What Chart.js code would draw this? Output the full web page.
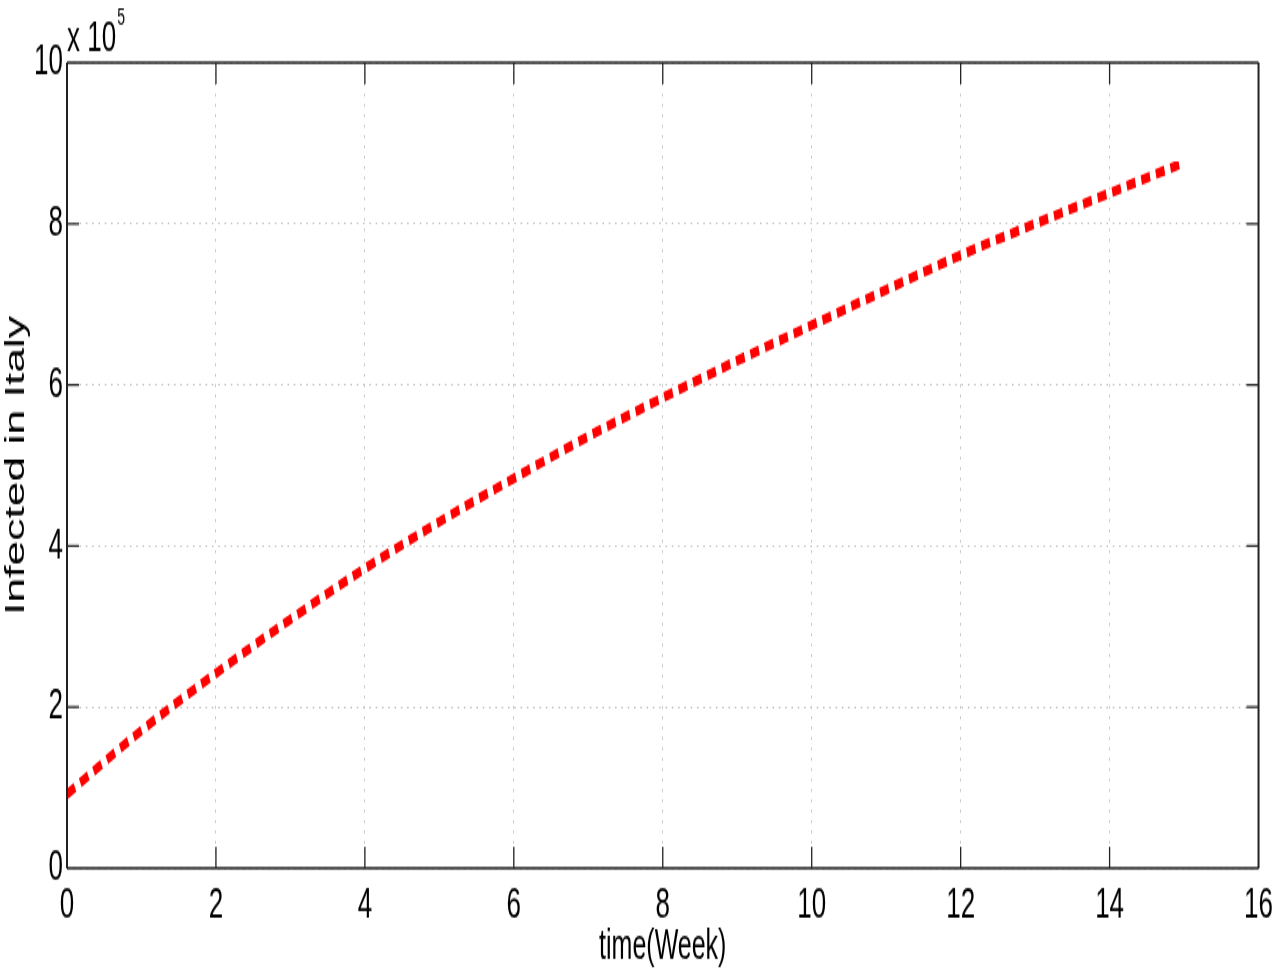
<!DOCTYPE html>
<html>
<head>
<meta charset="utf-8">
<script src="https://cdn.jsdelivr.net/npm/chart.js@4.4.1/dist/chart.umd.min.js"></script>
<style>
  html, body { margin: 0; padding: 0; background: #fff; }
</style>
</head>
<body>
<!-- the reference is a vertically stretched figure, so the canvas is drawn short and stretched -->
<canvas id="chart" width="1280" height="590" style="display:block;width:1280px;height:972px"></canvas>
<script>
// values
const weeks = [0, 1, 2, 3, 4, 5, 6, 7, 8, 9, 10, 11, 12, 13, 14, 15];
const infected = [92000, 171000, 242000, 309000, 372000, 430000, 484000, 536000,
                  584000, 630000, 674000, 718000, 761000, 800000, 838000, 876000];
const xTicks = [0, 2, 4, 6, 8, 10, 12, 14, 16];
const yTicks = [0, 200000, 400000, 600000, 800000, 1000000];

const FONT = "'Liberation Sans', Arial, sans-serif";

// box around the plot with inward ticks, plus the "x 10^5" multiplier
const matlabFrame = {
  id: 'matlabFrame',
  afterDraw(chart) {
    const ctx = chart.ctx;
    const a = chart.chartArea;
    const xs = chart.scales.x, ys = chart.scales.y;
    ctx.save();
    ctx.strokeStyle = '#222';

    ctx.lineWidth = 1.3;
    ctx.beginPath();
    ctx.moveTo(a.left, a.top); ctx.lineTo(a.right, a.top);
    ctx.moveTo(a.left, a.bottom); ctx.lineTo(a.right, a.bottom);
    xTicks.slice(1, -1).forEach(v => {
      const px = xs.getPixelForValue(v);
      ctx.moveTo(px, a.bottom); ctx.lineTo(px, a.bottom - 13);
      ctx.moveTo(px, a.top); ctx.lineTo(px, a.top + 13);
    });
    ctx.stroke();

    ctx.lineWidth = 2;
    ctx.beginPath();
    ctx.moveTo(a.left, a.top); ctx.lineTo(a.left, a.bottom);
    ctx.moveTo(a.right, a.top); ctx.lineTo(a.right, a.bottom);
    ctx.stroke();

    ctx.lineWidth = 1.3;
    ctx.beginPath();
    yTicks.slice(1, -1).forEach(v => {
      const py = ys.getPixelForValue(v);
      ctx.moveTo(a.left, py); ctx.lineTo(a.left + 12, py);
      ctx.moveTo(a.right, py); ctx.lineTo(a.right - 12, py);
    });
    ctx.stroke();

    ctx.fillStyle = '#000';
    ctx.textBaseline = 'alphabetic';
    ctx.textAlign = 'left';
    ctx.font = '26px ' + FONT;
    ctx.fillText('x 10', a.left, a.top - 7);
    const w = ctx.measureText('x 10').width;
    ctx.font = '14px ' + FONT;
    ctx.fillText('5', a.left + w + 1, a.top - 23);
    ctx.restore();
  }
};

new Chart(document.getElementById('chart'), {
  type: 'line',
  data: {
    datasets: [{
      label: 'Infected in Italy',
      data: weeks.map((w, i) => ({ x: w, y: infected[i] })),
      borderColor: '#ff0000',
      borderWidth: 6,
      borderDash: [9, 6],
      borderCapStyle: 'butt',
      pointRadius: 0,
      fill: false,
      cubicInterpolationMode: 'monotone'
    }]
  },
  options: {
    responsive: false,
    animation: false,
    devicePixelRatio: 1,
    layout: { padding: { top: 38, right: 18, bottom: 0, left: 0 } },
    plugins: {
      legend: { display: false },
      tooltip: { enabled: false }
    },
    scales: {
      x: {
        type: 'linear',
        min: 0,
        max: 16,
        afterBuildTicks(scale) { scale.ticks = xTicks.map(v => ({ value: v })); },
        afterFit(scale) { scale.height = 63; },
        grid: { color: '#bdbdbd', lineWidth: 1, drawTicks: false },
        border: { display: false, dash: [1.5, 4.8] },
        ticks: {
          color: '#000',
          font: { family: FONT, size: 26 },
          padding: 7,
          autoSkip: false,
          maxRotation: 0
        },
        title: {
          display: true,
          text: 'time(Week)',
          color: '#000',
          font: { family: FONT, size: 25, lineHeight: 1.2 },
          padding: 0
        }
      },
      y: {
        type: 'linear',
        min: 0,
        max: 1000000,
        afterBuildTicks(scale) { scale.ticks = yTicks.map(v => ({ value: v })); },
        afterFit(scale) { scale.width = 67; },
        grid: { color: '#bdbdbd', lineWidth: 1, drawTicks: false },
        border: { display: false, dash: [1.5, 4.8] },
        ticks: {
          color: '#000',
          font: { family: FONT, size: 26 },
          padding: 4,
          callback: v => String(v / 100000)
        },
        title: {
          display: true,
          text: 'Infected in Italy',
          color: '#000',
          font: { family: FONT, size: 27, lineHeight: 1.2 },
          padding: 0
        }
      }
    }
  },
  plugins: [matlabFrame]
});
</script>
</body>
</html>
